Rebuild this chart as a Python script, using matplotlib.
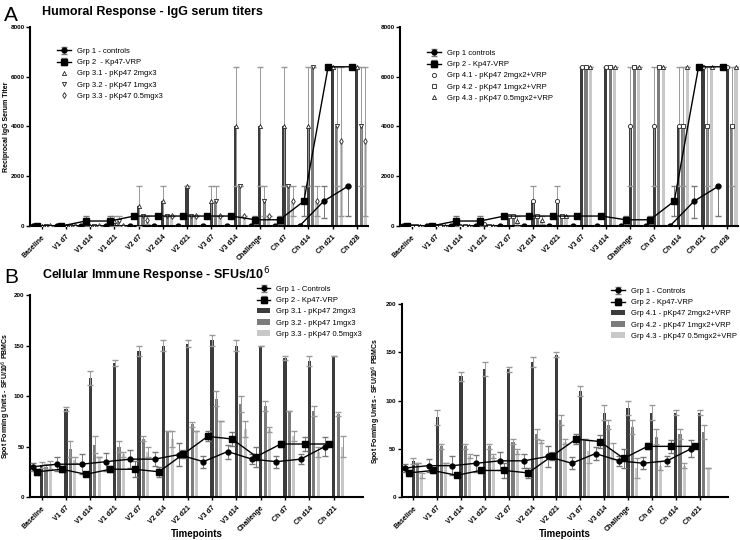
import matplotlib.pyplot as plt
import numpy as np

plt.rcParams['font.family'] = ['Liberation Sans', 'DejaVu Sans']

# ---- Panel A data (reciprocal IgG serum titers) ----
cats_a = ["Baseline", "V1 d7", "V1 d14", "V1 d21", "V2 d7", "V2 d14", "V2 d21",
          "V3 d7", "V3 d14", "Challenge", "Ch d7", "Ch d14", "Ch d21", "Ch d28"]
a_g1 = [0, 0, 0, 0, 0, 0, 0, 0, 0, 0, 0, 0, 1000, 1600]
a_g1_lo = [0, 0, 0, 0, 0, 0, 0, 0, 0, 0, 0, 0, 670, 1200]
a_g1_hi = [0, 0, 0, 0, 0, 0, 0, 0, 0, 0, 0, 0, 600, 0]
a_g2 = [0, 0, 200, 200, 400, 400, 400, 400, 400, 250, 250, 1000, 6400, 6400]
a_g2_err = [0, 0, 200, 200, 0, 0, 0, 0, 0, 150, 150, 600, 0, 0]

a_g31 = [0, 0, 0, 200, 800, 1000, 1600, 1000, 4000, 4000, 4000, 4000, 6400, 6400]
a_g31_err = [0, 0, 0, 200, 800, 600, 0, 600, 2400, 2400, 2400, 2400, 0, 0]
a_g32 = [0, 0, 0, 200, 400, 400, 400, 1000, 1600, 1000, 1600, 6400, 4000, 4000]
a_g32_err = [0, 0, 0, 200, 0, 0, 0, 600, 0, 600, 0, 0, 2400, 2400]
a_g33 = [0, 0, 0, 0, 250, 400, 400, 400, 400, 400, 1000, 1000, 3400, 3400]
a_g33_err = [0, 0, 0, 0, 150, 0, 0, 0, 0, 0, 600, 600, 3000, 3000]

a_g41 = [0, 0, 0, 100, 400, 1000, 1000, 6400, 6400, 4000, 4000, 4000, 6400, 6400]
a_g41_err = [0, 0, 0, 0, 0, 600, 600, 0, 0, 2400, 2400, 2400, 0, 0]
a_g42 = [0, 0, 0, 0, 400, 400, 400, 6400, 6400, 6400, 6400, 4000, 4000, 4000]
a_g42_err = [0, 0, 0, 0, 0, 0, 0, 0, 0, 0, 0, 2400, 2400, 2400]
a_g43 = [0, 0, 0, 0, 200, 250, 400, 6400, 6400, 6400, 6400, 6400, 6400, 6400]
a_g43_err = [0, 0, 0, 0, 200, 150, 0, 0, 0, 0, 0, 0, 0, 0]

# ---- Panel B data (SFU / 10^6 PBMCs) ----
cats_b = ["Baseline", "V1 d7", "V1 d14", "V1 d21", "V2 d7", "V2 d14", "V2 d21",
          "V3 d7", "V3 d14", "Challenge", "Ch d7", "Ch d14", "Ch d21"]
b_g1 = [30, 32.5, 32.5, 35, 37.5, 37.5, 42, 35, 45, 37.5, 35, 37.5, 50]
b_g1_err = [4, 7, 10, 9, 9, 7, 11, 6, 7, 5, 6, 5, 9]
b_g2 = [25, 27.5, 22.5, 27.5, 27.5, 25, 42.5, 60, 57.5, 40, 52.5, 52.5, 52.5]
b_g2_err = [3, 3, 2, 3, 8, 5, 4, 5, 7, 10, 3, 7, 2]

b_g31 = [32, 87.5, 118, 133, 145, 150, 152, 155, 150, 150, 138, 135, 140]
b_g31_err = [3, 2, 7, 3, 5, 5, 3, 5, 5, 0, 2, 5, 0]
b_g32 = [30, 47.5, 52, 50, 57.5, 65, 72, 97.5, 92, 90, 85, 85, 82]
b_g32_err = [3, 7.5, 8, 5, 2.5, 0, 2.5, 7.5, 8, 5, 0, 5, 2]
b_g33 = [32, 37, 40, 42.5, 45, 57.5, 65, 75, 67, 67, 60, 45, 50]
b_g33_err = [4, 3, 0, 2.5, 5, 7.5, 0, 0, 8, 2.5, 5, 5, 10]

b_g41 = [37.5, 82.5, 125, 132.5, 132.5, 140, 147.5, 110, 87.5, 92.5, 87.5, 87.5, 87.5]
b_g41_err = [3, 7.5, 5, 7.5, 2.5, 5, 2.5, 5, 7.5, 7.5, 7.5, 2.5, 2.5]
b_g42 = [35, 52.5, 52.5, 52.5, 57.5, 65, 80, 60, 75, 72.5, 62.5, 65, 67.5]
b_g42_err = [0, 2.5, 2.5, 2.5, 2.5, 5, 5, 0, 5, 7.5, 7.5, 5, 7.5]
b_g43 = [22.5, 35, 42.5, 42.5, 47.5, 57.5, 57.5, 47.5, 47.5, 30, 32.5, 32.5, 30]
b_g43_err = [2.5, 0, 2.5, 2.5, 2.5, 2, 2.5, 12, 8, 10, 5, 2.5, 0]

dark, mid, light = '#3c3c3c', '#7c7c7c', '#c8c8c8'
w = 0.18
bw = 0.13


def style(ax, cats, ymax, step, xmax):
    for s in ['top', 'right']:
        ax.spines[s].set_visible(False)
    for s in ['left', 'bottom']:
        ax.spines[s].set_linewidth(1.5)
    ax.set_xticks(range(len(cats)))
    ax.set_xticklabels(cats, rotation=45, ha='right', rotation_mode='anchor',
                       fontsize=5, fontweight='bold')
    ax.set_ylim(0, ymax)
    ax.set_yticks(np.arange(0, ymax + 1, step))
    for t in ax.get_yticklabels():
        t.set_fontweight('bold')
    ax.tick_params(axis='y', labelsize=4.5, width=1, length=3, pad=1)
    ax.tick_params(axis='x', width=1, length=2)
    ax.set_xlim(-0.48, xmax)


def lines(ax, x, g1, g1_err, g2, g2_err, lab1, lab2):
    ax.errorbar(x - 2 * w, g1, yerr=g1_err, color='black', marker='o', ms=3.5, lw=1,
                ecolor='#777777', elinewidth=0.7, capsize=2, zorder=5, label=lab1)
    ax.errorbar(x - w, g2, yerr=g2_err, color='black', marker='s', ms=4, lw=1,
                ecolor='#777777', elinewidth=0.7, capsize=2, zorder=5, label=lab2)


def bars(ax, x, groups, marks=None, labels=None):
    cols = [dark, mid, light]
    for k, (vals, errs) in enumerate(groups):
        lab = labels[k] if marks is None else None
        ax.bar(x + k * w, vals, bw, color=cols[k], label=lab, zorder=2)
        ax.errorbar(x + k * w, vals, yerr=errs, fmt='none', ecolor='#999999',
                    elinewidth=0.7, capsize=2, zorder=3)
        if marks is not None:
            ax.plot(x + k * w, vals, ls='none', marker=marks[k], ms=3,
                    mfc='white', mec='#222222', mew=0.6, zorder=4, label=labels[k])


fig = plt.figure(figsize=(7.4, 5.4), dpi=100)
axA1 = fig.add_axes([0.0405, 0.5815, 0.457, 0.3685])
axA2 = fig.add_axes([0.5405, 0.5815, 0.457, 0.3685])
axB1 = fig.add_axes([0.0405, 0.0796, 0.45, 0.374])
axB2 = fig.add_axes([0.543, 0.0796, 0.441, 0.3574])

xa = np.arange(len(cats_a))
xb = np.arange(len(cats_b))

# Panel A left
bars(axA1, xa, [(a_g31, a_g31_err), (a_g32, a_g32_err), (a_g33, a_g33_err)],
     marks=['^', 'v', 'd'],
     labels=["Grp 3.1 - pKp47 2mgx3", "Grp 3.2 - pKp47 1mgx3", "Grp 3.3 - pKp47 0.5mgx3"])
lines(axA1, xa, a_g1, [a_g1_lo, a_g1_hi], a_g2, a_g2_err,
      "Grp 1 - controls", "Grp 2  - Kp47-VRP")
style(axA1, cats_a, 8000, 2000, 13.47)
axA1.set_ylabel("Reciprocal IgG Serum Titer", fontsize=5, fontweight='bold')
axA1.yaxis.set_label_coords(-0.058, 0.5)
h, l = axA1.get_legend_handles_labels()
order = [l.index("Grp 1 - controls"), l.index("Grp 2  - Kp47-VRP"), 0, 1, 2]
axA1.legend([h[i] for i in order], [l[i] for i in order], loc='upper left',
            bbox_to_anchor=(0.06, 0.93), frameon=False, fontsize=5.5,
            handlelength=1.8, labelspacing=0.5)

# Panel A right
bars(axA2, xa, [(a_g41, a_g41_err), (a_g42, a_g42_err), (a_g43, a_g43_err)],
     marks=['o', 's', '^'],
     labels=["Grp 4.1 - pKp47 2mgx2+VRP", "Grp 4.2 - pKp47 1mgx2+VRP",
             "Grp 4.3 - pKp47 0.5mgx2+VRP"])
lines(axA2, xa, a_g1, [a_g1_lo, a_g1_hi], a_g2, a_g2_err,
      "Grp 1 controls", "Grp 2 - Kp47-VRP")
style(axA2, cats_a, 8000, 2000, 13.45)
h, l = axA2.get_legend_handles_labels()
order = [l.index("Grp 1 controls"), l.index("Grp 2 - Kp47-VRP"), 0, 1, 2]
axA2.legend([h[i] for i in order], [l[i] for i in order], loc='upper left',
            bbox_to_anchor=(0.06, 0.92), frameon=False, fontsize=5.5,
            handlelength=1.8, labelspacing=0.5)

# Panel B left
bars(axB1, xb, [(b_g31, b_g31_err), (b_g32, b_g32_err), (b_g33, b_g33_err)],
     labels=["Grp 3.1 - pKp47 2mgx3", "Grp 3.2 - pKp47 1mgx3", "Grp 3.3 - pKp47 0.5mgx3"])
lines(axB1, xb, b_g1, b_g1_err, b_g2, b_g2_err, "Grp 1 - Controls", "Grp 2 - Kp47-VRP")
style(axB1, cats_b, 200, 50, 13.2)
axB1.set_ylabel("Spot Forming Units - SFU/10$^6$ PBMCs", fontsize=5, fontweight='bold')
axB1.yaxis.set_label_coords(-0.05, 0.5)
axB1.set_xlabel("Timepoints", fontsize=7, fontweight='bold')
axB1.xaxis.set_label_coords(0.5, -0.16)
h, l = axB1.get_legend_handles_labels()
order = [3, 4, 0, 1, 2]
axB1.legend([h[i] for i in order], [l[i] for i in order], loc='upper left',
            bbox_to_anchor=(0.66, 1.08), frameon=False, fontsize=5.5,
            handlelength=1.8, labelspacing=0.5)

# Panel B right
bars(axB2, xb, [(b_g41, b_g41_err), (b_g42, b_g42_err), (b_g43, b_g43_err)],
     labels=["Grp 4.1 - pKp47 2mgx2+VRP", "Grp 4.2 - pKp47 1mgx2+VRP",
             "Grp 4.3 - pKp47 0.5mgx2+VRP"])
lines(axB2, xb, b_g1, b_g1_err, b_g2, b_g2_err, "Grp 1 - Controls", "Grp 2 - Kp47-VRP")
style(axB2, cats_b, 200, 50, 13.2)
axB2.set_ylabel("Spot Forming Units - SFU/10$^6$ PBMCs", fontsize=5, fontweight='bold')
axB2.yaxis.set_label_coords(-0.058, 0.5)
axB2.set_xlabel("Timepoints", fontsize=7, fontweight='bold')
axB2.xaxis.set_label_coords(0.5, -0.168)
h, l = axB2.get_legend_handles_labels()
axB2.legend([h[i] for i in order], [l[i] for i in order], loc='upper left',
            bbox_to_anchor=(0.62, 1.12), frameon=False, fontsize=5.5,
            handlelength=1.8, labelspacing=0.5)

fig.text(0.006, 0.972, "A", fontsize=15, va='center')
fig.text(0.057, 0.978, "Humoral Response - IgG serum titers", fontsize=9,
         fontweight='bold', va='center')
fig.text(0.006, 0.486, "B", fontsize=15, va='center')
fig.text(0.057, 0.49, "Cellular Immune Response - SFUs/10$^6$", fontsize=9,
         fontweight='bold', va='center')

fig.savefig("out.png", dpi=100)
